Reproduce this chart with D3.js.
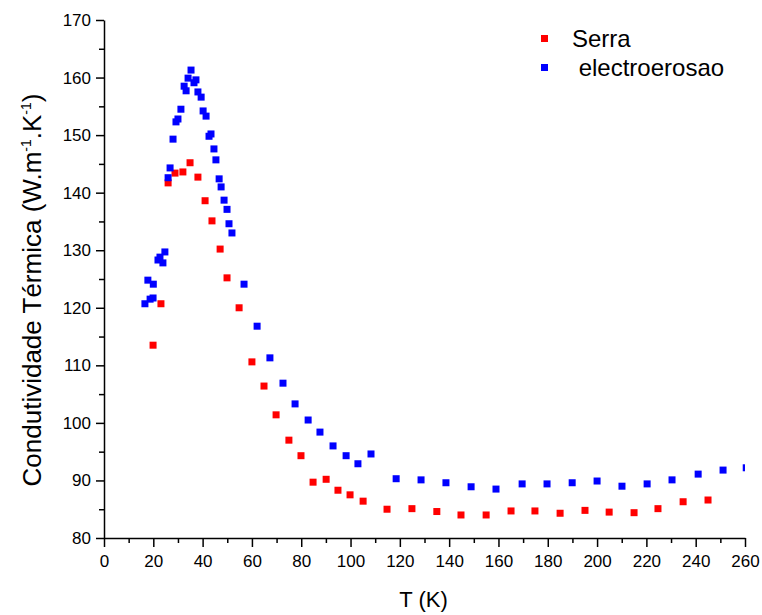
<!DOCTYPE html>
<html>
<head>
<meta charset="utf-8">
<script src="https://cdn.jsdelivr.net/npm/d3@7"></script>
<style>
  body { margin: 0; background: #fff; }
  text { font-family: "Liberation Sans", Arial, sans-serif; fill: #000; }
</style>
</head>
<body>
<svg id="chart" width="762" height="615"></svg>
<script>
// data
const serraT = [19.9, 23.1, 26.0, 28.8, 32.0, 34.9, 38.1, 41.0, 43.8, 47.1, 49.9, 54.8, 60.0, 64.9, 69.8, 75.0, 79.9, 84.8, 90.1, 94.9, 99.8, 105.1, 114.8, 124.9, 135.0, 144.8, 155.0, 165.1, 174.8, 185.0, 195.1, 204.9, 215.0, 224.7, 234.9, 245.0];
const serraK = [113.5, 120.7, 141.7, 143.4, 143.6, 145.2, 142.7, 138.6, 135.1, 130.2, 125.2, 120.0, 110.6, 106.4, 101.4, 97.0, 94.3, 89.7, 90.2, 88.3, 87.5, 86.4, 85.0, 85.1, 84.6, 84.0, 84.0, 84.7, 84.7, 84.3, 84.8, 84.5, 84.4, 85.1, 86.3, 86.6];

const eroT = [16.6, 17.8, 18.7, 19.9, 20.0, 21.9, 22.7, 23.9, 24.7, 26.0, 26.8, 28.0, 29.2, 30.0, 31.2, 32.5, 33.3, 34.1, 35.3, 36.5, 37.3, 38.1, 39.4, 40.2, 41.4, 42.6, 43.4, 44.6, 45.4, 46.7, 47.5, 48.7, 49.9, 50.7, 51.9, 56.8, 62.1, 67.3, 72.6, 77.5, 82.8, 87.6, 92.9, 98.2, 103.0, 108.3, 118.5, 128.6, 138.7, 148.9, 159.0, 169.6, 179.7, 189.9, 200.0, 210.1, 220.3, 230.4, 241.0, 251.1, 260.5];
const eroK = [120.7, 124.8, 121.5, 121.7, 124.1, 128.3, 128.8, 127.8, 129.7, 142.6, 144.3, 149.3, 152.3, 152.8, 154.5, 158.5, 157.7, 159.9, 161.3, 159.1, 159.6, 157.5, 156.6, 154.2, 153.3, 149.8, 150.2, 147.6, 145.7, 142.4, 141.0, 138.7, 137.1, 134.6, 133.0, 124.1, 116.8, 111.3, 106.9, 103.3, 100.5, 98.4, 96.0, 94.3, 92.9, 94.6, 90.3, 90.1, 89.6, 88.9, 88.5, 89.4, 89.4, 89.6, 89.9, 89.0, 89.4, 90.1, 91.1, 91.8, 92.2];

const seriesNames = ["Serra", " electroerosao"];
const seriesColors = ["#ff0000", "#0000ff"];

const xTicks = d3.range(0, 261, 20);
const yTicks = d3.range(80, 171, 10);

const margin = { top: 20, right: 17, bottom: 77, left: 104 };
const width = 762 - margin.left - margin.right;
const height = 615 - margin.top - margin.bottom;

const svg = d3.select("#chart");
const g = svg.append("g").attr("transform", `translate(${margin.left},${margin.top})`);

const x = d3.scaleLinear().domain([0, 260]).range([0, width]);
const y = d3.scaleLinear().domain([80, 170]).range([height, 0]);

// clip so the last blue point is cut at the right edge
svg.append("defs").append("clipPath").attr("id", "plot-clip")
  .append("rect").attr("x", -10).attr("y", -10).attr("width", width + 10).attr("height", height + 20);

// minor ticks
g.append("g")
  .attr("transform", `translate(0,${height})`)
  .call(d3.axisBottom(x).tickValues(d3.range(10, 260, 20)).tickSize(5).tickFormat(""))
  .call(a => a.select(".domain").remove())
  .call(a => a.selectAll("line").attr("stroke-width", 1.5));

g.append("g")
  .call(d3.axisLeft(y).tickValues(d3.range(85, 170, 10)).tickSize(5).tickFormat(""))
  .call(a => a.select(".domain").remove())
  .call(a => a.selectAll("line").attr("stroke-width", 1.5));

// major axes
const xAxis = g.append("g")
  .attr("transform", `translate(0,${height})`)
  .call(d3.axisBottom(x).tickValues(xTicks).tickSize(9).tickSizeOuter(0).tickPadding(8));
xAxis.select(".domain").attr("stroke-width", 1.5);
xAxis.selectAll("line").attr("stroke-width", 1.5);
xAxis.selectAll("text").style("font-size", "17px");

const yAxis = g.append("g")
  .call(d3.axisLeft(y).tickValues(yTicks).tickSize(8).tickSizeOuter(0).tickPadding(5));
yAxis.select(".domain").attr("stroke-width", 1.5);
yAxis.selectAll("line").attr("stroke-width", 1.5);
yAxis.selectAll("text").style("font-size", "17px");

// axis titles
g.append("text")
  .attr("x", width / 2 - 1)
  .attr("y", height + 69)
  .attr("text-anchor", "middle")
  .style("font-size", "22px")
  .text("T (K)");

const yTitle = g.append("text")
  .attr("transform", `translate(${41 - margin.left},${290 - margin.top}) rotate(-90)`)
  .attr("text-anchor", "middle")
  .style("font-size", "26px");
yTitle.append("tspan").text("Condutividade Térmica (W.m");
yTitle.append("tspan").attr("dy", -10).style("font-size", "14px").text("-1");
yTitle.append("tspan").attr("dy", 10).text(".K");
yTitle.append("tspan").attr("dy", -10).style("font-size", "14px").text("-1");
yTitle.append("tspan").attr("dy", 10).text(")");

// points
const series = [
  { T: serraT, K: serraK },
  { T: eroT, K: eroK }
];
const ms = 7;
const pts = g.append("g").attr("clip-path", "url(#plot-clip)");
series.forEach((s, i) => {
  pts.append("g").selectAll("rect")
    .data(s.T.map((t, j) => [t, s.K[j]]))
    .join("rect")
    .attr("x", d => x(d[0]) - ms / 2)
    .attr("y", d => y(d[1]) - ms / 2)
    .attr("width", ms)
    .attr("height", ms)
    .attr("fill", seriesColors[i]);
});

// legend
const legend = g.append("g").attr("transform", `translate(${544 - margin.left},${38 - margin.top})`);
seriesNames.forEach((name, i) => {
  const row = legend.append("g").attr("transform", `translate(0,${i * 29})`);
  row.append("rect").attr("x", -3).attr("y", -3).attr("width", 7).attr("height", 7).attr("fill", seriesColors[i]);
  row.append("text")
    .attr("x", 28)
    .attr("y", 9)
    .attr("xml:space", "preserve")
    .style("white-space", "pre")
    .style("font-size", "24px")
    .text(name);
});
</script>
</body>
</html>
